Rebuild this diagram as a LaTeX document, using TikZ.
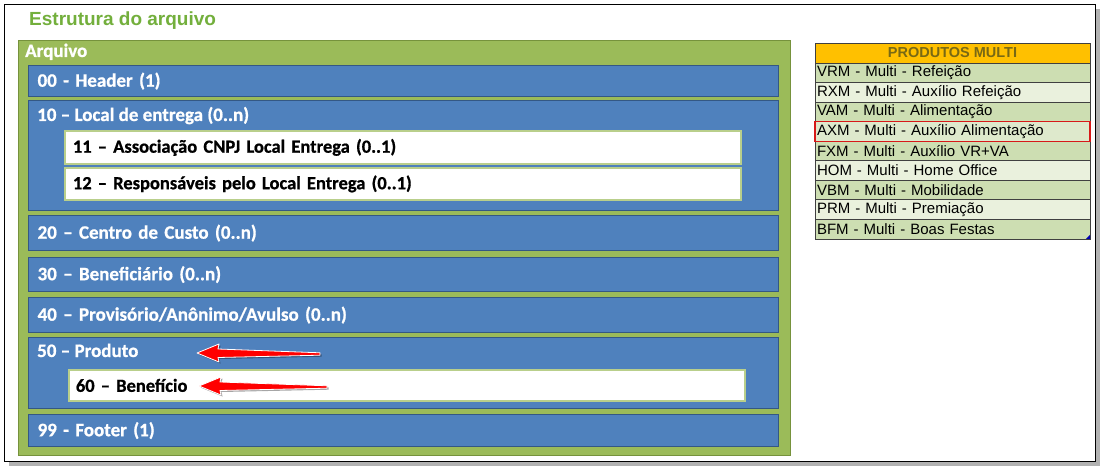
\documentclass[tikz,border=0pt]{standalone}
\usepackage{fontspec}
\setmainfont{Carlito}[BoldFeatures={FakeBold=0.8}]
\newfontfamily\tabfont{Liberation Sans}
\usetikzlibrary{positioning, shadows, calc}
\definecolor{ArqGreen}{RGB}{155,187,89}
\definecolor{ArqGreenDk}{RGB}{118,146,60}
\definecolor{ArqBlue}{RGB}{79,129,189}
\definecolor{ArqBlueDk}{RGB}{52,88,132}
\definecolor{TitleGreen}{RGB}{115,175,60}
\definecolor{ProdHead}{RGB}{255,192,0}
\definecolor{ProdHeadTxt}{RGB}{120,105,20}
\definecolor{RowDark}{RGB}{205,222,178}
\definecolor{RowLight}{RGB}{234,241,221}
\definecolor{MarkRed}{RGB}{215,25,25}
\tikzset{
  frame/.style={rectangle, draw=black, line width=1.4pt, fill=white, anchor=north west,
    drop shadow={shadow xshift=4pt, shadow yshift=-4pt, fill=black, opacity=0.3}},
  titletxt/.style={font=\tabfont\bfseries\fontsize{19}{22}\selectfont, text=TitleGreen, inner sep=0pt},
  arqbox/.style={rectangle, draw=ArqGreenDk, fill=ArqGreen, line width=1.2pt, anchor=north west},
  arqtxt/.style={font=\bfseries\fontsize{19}{20}\selectfont, text=white, inner sep=0pt},
  regbox/.style={rectangle, draw=ArqBlueDk, fill=ArqBlue, line width=1.2pt, anchor=north west,
    minimum width=750pt, text width=732pt, inner xsep=9pt, align=left, text=white,
    font=\bfseries\fontsize{19}{20}\selectfont},
  subbox/.style={rectangle, draw=ArqGreen!70, fill=white, line width=1.8pt, anchor=north west,
    minimum width=676pt, text width=660pt, inner xsep=8pt, align=left, text=black,
    font=\bfseries\fontsize{18.5}{20}\selectfont},
  prodhead/.style={rectangle, draw=black!75, fill=ProdHead, line width=0.8pt, anchor=north west,
    minimum width=275pt, minimum height=20pt, inner sep=0pt, outer sep=0pt, text=ProdHeadTxt,
    font=\tabfont\bfseries\fontsize{14.5}{15}\selectfont},
  prodrow/.style={rectangle, draw=black!75, line width=0.8pt, minimum width=275pt,
    minimum height=19.55pt, text width=271pt, inner xsep=2pt, inner ysep=0pt, outer sep=0pt,
    align=left, font=\tabfont\fontsize{15}{15}\selectfont},
  pointer/.style={fill=red, draw=white, line width=0.8pt, line join=round,
    drop shadow={shadow xshift=1.5pt, shadow yshift=-1.5pt, fill=black, opacity=0.35}}
}
\begin{document}
\begin{tikzpicture}[x=1pt, y=-1pt]
  \useasboundingbox (0,0) rectangle (1109,476);
  \node[frame, minimum width=1091pt, minimum height=457pt] (page) at (4,4) {};
  \node[titletxt, anchor=base west] (title) at (29,26) {Estrutura do arquivo};

  % file structure
  \node[arqbox, minimum width=772pt, minimum height=415pt] (arq) at (18,40) {};
  \node[arqtxt, anchor=base west] (arqlbl) at (25,57) {Arquivo};

  \node[regbox, minimum height=31pt] (hdr) at (28,65) {00 - Header (1)};
  \node[regbox, minimum height=110pt] (loc) at (28,100) {};
  \node[arqtxt, anchor=base west] (loclbl) at (37,121) {10 – Local de entrega (0..n)};
  \node[subbox, minimum height=33pt] (ass) at (64,130) {11 – Associação CNPJ Local Entrega (0..1)};
  \node[subbox, minimum height=32pt] (rsp) at (64,167) {12 – Responsáveis pelo Local Entrega (0..1)};
  \node[regbox, minimum height=35pt] (ccu) at (28,215) {20 – Centro de Custo (0..n)};
  \node[regbox, minimum height=34pt] (ben) at (28,257) {30 – Beneficiário (0..n)};
  \node[regbox, minimum height=35pt] (prv) at (28,297) {40 – Provisório/Anônimo/Avulso (0..n)};
  \node[regbox, minimum height=71pt] (prd) at (28,337) {};
  \node[arqtxt, anchor=base west] (prdlbl) at (37,357) {50 – Produto};
  \node[subbox, minimum height=31pt, inner xsep=7pt, text width=662pt] (bnf) at (68,369) {60 – Benefício};
  \node[regbox, minimum height=32pt] (ftr) at (28,414) {99 - Footer (1)};

  % red pointers
  \coordinate (p1tip) at (197,353);
  \coordinate (p1end) at (320,354);
  \coordinate (p2tip) at (199,386);
  \coordinate (p2end) at (327,387);
  \filldraw[pointer] (p1tip) -- ++(22,-9) -- ++(-1,5) -- ($(p1end)+(0,-1.2)$)
    -- ($(p1end)+(0,1.2)$) -- ($(p1tip)+(21,4.5)$) -- ++(1,4.5) -- cycle;
  \filldraw[pointer] (p2tip) -- ++(22,-9) -- ++(-1,5) -- ($(p2end)+(0,-1.2)$)
    -- ($(p2end)+(0,1.2)$) -- ($(p2tip)+(21,4.5)$) -- ++(1,4.5) -- cycle;

  % product table
  \node[prodhead] (phead) at (815,43) {PRODUTOS MULTI};
  \node[prodrow, fill=RowDark,  below=0pt of phead] (vrm) {VRM - Multi - Refeição};
  \node[prodrow, fill=RowLight, below=0pt of vrm] (rxm) {RXM - Multi - Auxílio Refeição};
  \node[prodrow, fill=RowDark,  below=0pt of rxm] (vam) {VAM - Multi - Alimentação};
  \node[prodrow, fill=RowLight!60!RowDark, below=0pt of vam] (axm) {AXM - Multi - Auxílio Alimentação};
  \node[prodrow, fill=RowDark,  below=0pt of axm] (fxm) {FXM - Multi - Auxílio VR+VA};
  \node[prodrow, fill=RowLight, below=0pt of fxm] (hom) {HOM - Multi - Home Office};
  \node[prodrow, fill=RowDark,  below=0pt of hom] (vbm) {VBM - Multi - Mobilidade};
  \node[prodrow, fill=RowLight, below=0pt of vbm] (prm) {PRM - Multi - Premiação};
  \node[prodrow, fill=RowDark,  below=0pt of prm] (bfm) {BFM - Multi - Boas Festas};
  \draw[MarkRed, line width=1.3pt] (axm.north west) rectangle (axm.south east);
  \fill[blue!70!black] (bfm.south east) -- ++(-4,0) -- ++(4,-4) -- cycle;
\end{tikzpicture}
\end{document}
